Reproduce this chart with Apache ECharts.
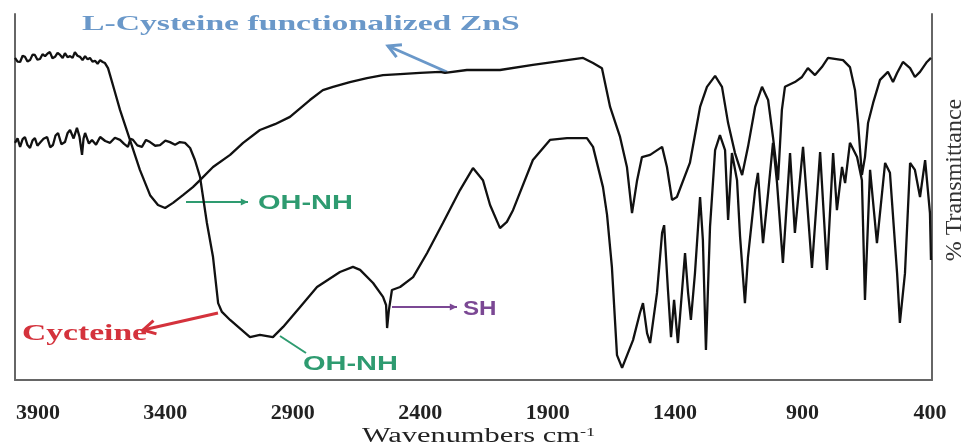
<!DOCTYPE html>
<html>
<head>
<meta charset="utf-8">
<script src="https://cdn.jsdelivr.net/npm/echarts@6/dist/echarts.min.js"></script>
<style>
  html, body { margin: 0; padding: 0; background: #fff; }
  #c1 { width: 968px; height: 445px; }
</style>
</head>
<body>
<div id="c1"></div>
<script>
// L-Cysteine functionalized ZnS (upper trace at high wavenumber)
const znsWn = [3990, 3980, 3970, 3960, 3951, 3941, 3931, 3921, 3912, 3902, 3892, 3882, 3872, 3862, 3853, 3843, 3833, 3823, 3813, 3803,
  3794, 3784, 3774, 3764, 3755, 3745, 3735, 3725, 3715, 3705, 3696, 3686, 3676, 3666, 3656, 3646, 3637, 3625,
  3617, 3598, 3578, 3539, 3500, 3460, 3429, 3401, 3370, 3331, 3292, 3264, 3213, 3146, 3095, 3029, 2970, 2911, 2833, 2782,
  2742, 2676, 2609, 2546, 2479, 2401, 2322, 2303, 2217, 2087, 1958, 1824, 1761, 1722, 1687, 1655, 1616, 1589, 1569, 1549,
  1530, 1498, 1451, 1432, 1412, 1393, 1342, 1302, 1275, 1243, 1216, 1192, 1165, 1137, 1114, 1086, 1059, 1035, 1016, 996,
  981, 969, 930, 902, 879, 851, 824, 800, 741, 714, 694, 682, 667, 655, 643, 623, 596, 565, 545, 529,
  506, 478, 459, 439, 412, 396]
const znsT = [88.0, 87.0, 86.9, 88.6, 88.3, 87.0, 87.4, 88.9, 88.8, 87.5, 87.7, 89.0, 88.5, 89.2, 89.6, 87.9, 88.3, 89.4, 88.8, 88.0,
  89.3, 88.2, 88.5, 88.0, 89.6, 88.6, 88.3, 87.4, 88.5, 87.6, 88.0, 87.0, 87.2, 86.4, 87.4, 86.9, 86.6, 85.2,
  83.3, 78.7, 73.8, 65.6, 57.4, 50.5, 47.8, 47.0, 48.4, 50.5, 52.7, 54.6, 58.2, 61.5, 64.8, 68.3, 69.9, 71.9, 76.5, 79.2,
  80.1, 81.4, 82.5, 83.3, 83.6, 83.9, 84.2, 83.9, 84.7, 84.7, 86.1, 87.4, 88.0, 86.6, 85.2, 74.6, 66.4, 58.2, 45.6, 54.6,
  60.9, 61.5, 63.7, 58.2, 49.2, 50.0, 59.3, 74.6, 80.1, 83.1, 80.1, 70.2, 62.0, 56.0, 63.7, 74.6, 80.1, 76.5, 66.4, 54.6,
  73.8, 80.1, 81.4, 82.8, 85.2, 83.3, 85.5, 88.0, 87.4, 85.5, 79.2, 70.2, 56.0, 60.9, 70.2, 75.7, 82.0, 84.2, 81.4, 83.9,
  86.9, 85.2, 82.8, 84.2, 86.9, 88.0]

// Cysteine (lower trace)
const cysWn = [3990, 3980, 3970, 3960, 3951, 3941, 3931, 3921, 3912, 3902, 3892, 3878, 3864, 3852, 3841, 3831, 3821, 3808, 3794, 3784,
  3774, 3760, 3747, 3737, 3727, 3721, 3715, 3700, 3688, 3672, 3656, 3636, 3617, 3598, 3578, 3562, 3547, 3537, 3527, 3510,
  3492, 3476, 3460, 3440, 3421, 3400, 3382, 3362, 3343, 3323, 3303, 3284, 3264, 3237, 3213, 3193, 3178, 3146, 3068, 3029,
  2978, 2938, 2872, 2805, 2715, 2664, 2636, 2585, 2546, 2534, 2530, 2523, 2511, 2479, 2428, 2373, 2311, 2244, 2193, 2154,
  2126, 2087, 2060, 2036, 2020, 1958, 1891, 1824, 1746, 1722, 1683, 1667, 1648, 1628, 1608, 1565, 1538, 1526, 1510, 1498,
  1471, 1451, 1443, 1428, 1416, 1404, 1389, 1361, 1349, 1338, 1322, 1302, 1291, 1279, 1263, 1243, 1224, 1204, 1192, 1177,
  1157, 1145, 1126, 1114, 1086, 1075, 1055, 1035, 1016, 1000, 977, 949, 930, 898, 863, 831, 804, 780, 765, 745,
  733, 714, 686, 667, 655, 635, 608, 576, 557, 529, 518, 498, 478, 459, 439, 419, 400, 396]
const cysT = [64.8, 66.0, 63.7, 65.8, 66.4, 64.2, 63.4, 65.5, 66.1, 64.0, 64.8, 65.9, 66.4, 63.6, 64.2, 66.8, 67.5, 64.4, 65.0, 67.4,
  68.3, 66.0, 68.9, 66.5, 61.5, 66.0, 67.5, 64.6, 65.6, 64.3, 66.4, 65.3, 64.8, 66.2, 65.6, 64.5, 63.7, 65.9, 65.6, 64.1,
  63.7, 65.6, 65.0, 64.0, 64.2, 65.4, 65.0, 64.3, 65.0, 64.8, 63.4, 60.1, 55.5, 42.9, 33.6, 21.0, 18.6, 16.4, 11.7, 12.3,
  11.7, 14.5, 19.9, 25.4, 29.5, 30.9, 30.1, 26.5, 22.7, 20.5, 14.2, 19.1, 24.6, 25.4, 28.1, 34.7, 42.9, 51.9, 57.9, 54.6,
  47.8, 41.5, 43.2, 46.4, 49.2, 60.1, 65.6, 66.1, 66.1, 63.7, 52.7, 45.1, 30.9, 6.8, 3.3, 10.9, 18.3, 21.0, 12.8, 10.1,
  23.8, 40.2, 42.3, 24.6, 11.7, 21.9, 10.1, 34.7, 23.8, 16.4, 29.2, 50.0, 38.3, 8.2, 41.8, 62.8, 66.9, 62.8, 43.7, 62.0,
  54.6, 39.1, 21.0, 33.6, 51.9, 56.6, 37.4, 51.1, 64.8, 53.8, 32.0, 62.0, 40.2, 63.7, 30.6, 62.3, 30.1, 62.0, 46.4, 58.2,
  53.8, 64.8, 60.9, 54.6, 21.9, 57.4, 37.4, 59.3, 56.6, 29.2, 15.6, 29.2, 59.3, 57.4, 50.0, 60.1, 45.6, 32.8]

const xTicks = [3900, 3400, 2900, 2400, 1900, 1400, 900, 400]

const zip = (xs, ys) => xs.map((x, i) => [x, ys[i]])

// arrow: line plus head (open V or small filled triangle)
function arrow(x1, y1, x2, y2, color, w, open) {
  const a = Math.atan2(y2 - y1, x2 - x1)
  const len = open ? 14 : 8
  const s = open ? 0.5 : 0.45
  const p1 = [x2 - len * Math.cos(a - s), y2 - len * Math.sin(a - s)]
  const p2 = [x2 - len * Math.cos(a + s), y2 - len * Math.sin(a + s)]
  const line = { type: 'line', shape: { x1, y1, x2, y2 }, style: { stroke: color, lineWidth: w } }
  const head = open
    ? { type: 'polyline', shape: { points: [p1, [x2, y2], p2] }, style: { stroke: color, lineWidth: w, fill: 'none' } }
    : { type: 'polygon', shape: { points: [p1, [x2, y2], p2] }, style: { fill: color } }
  return [line, head]
}

function label(x, y, text, font, color, sx) {
  return { type: 'text', x, y, scaleX: sx || 1, style: { text, font, fill: color, textAlign: 'left', textVerticalAlign: 'middle' } }
}

const blue = '#6a98c9'
const green = '#2e9b70'
const red = '#d4323c'
const purple = '#7b4894'

const myChart = echarts.init(document.getElementById('c1'))
const axisCommon = {
  axisLine: { show: true, lineStyle: { color: '#666', width: 2 } },
  axisTick: { show: false },
  splitLine: { show: false }
}
const option = {
  animation: false,
  backgroundColor: '#fff',
  grid: { left: 15, right: 36, top: 14, bottom: 65 },
  xAxis: {
    type: 'value',
    inverse: true,
    min: 392,
    max: 3990,
    ...axisCommon,
    axisLabel: {
      customValues: xTicks,
      formatter: v => String(v),
      margin: 22,
      fontFamily: 'Liberation Serif',
      fontWeight: 'bold',
      fontSize: 22,
      color: '#222'
    }
  },
  yAxis: [
    { type: 'value', min: 0, max: 100, position: 'left', ...axisCommon, axisLabel: { show: false } },
    { type: 'value', min: 0, max: 100, position: 'right', ...axisCommon, axisLabel: { show: false } }
  ],
  series: [
    {
      name: 'L-Cysteine functionalized ZnS',
      type: 'line',
      data: zip(znsWn, znsT),
      showSymbol: false,
      lineStyle: { color: '#111', width: 2.3 }
    },
    {
      name: 'Cycteine',
      type: 'line',
      data: zip(cysWn, cysT),
      showSymbol: false,
      lineStyle: { color: '#111', width: 2.3 }
    }
  ],
  graphic: [
    label(82, 24, 'L-Cysteine functionalized ZnS', 'bold 22px "Liberation Serif"', blue, 1.53),
    ...arrow(447, 72, 388, 46, blue, 3, true),
    ...arrow(186, 202, 248, 202, green, 2, false),
    label(258, 203, 'OH-NH', 'bold 21px "Liberation Sans"', green, 1.38),
    ...arrow(218, 313, 143, 330, red, 3, true),
    label(22, 334, 'Cycteine', 'bold 24px "Liberation Serif"', red, 1.4),
    { type: 'line', shape: { x1: 280, y1: 336, x2: 306, y2: 353 }, style: { stroke: green, lineWidth: 2 } },
    label(303, 364, 'OH-NH', 'bold 21px "Liberation Sans"', green, 1.38),
    ...arrow(392, 307, 457, 307, purple, 2, false),
    label(463, 309, 'SH', 'bold 21px "Liberation Sans"', purple, 1.15),
    {
      type: 'text', x: 362, y: 437, scaleX: 1.52,
      style: {
        text: 'Wavenumbers cm{sup|-1}',
        font: '20px "Liberation Serif"',
        fill: '#222',
        textAlign: 'left',
        textVerticalAlign: 'middle',
        rich: { sup: { fontSize: 12, fontFamily: 'Liberation Serif', verticalAlign: 'top', lineHeight: 20 } }
      }
    },
    {
      type: 'text', x: 955, y: 180, rotation: Math.PI / 2,
      style: { text: '% Transmittance', font: '24px "Liberation Serif"', fill: '#333', textAlign: 'center', textVerticalAlign: 'middle' }
    }
  ]
}
myChart.setOption(option)
</script>
</body>
</html>
